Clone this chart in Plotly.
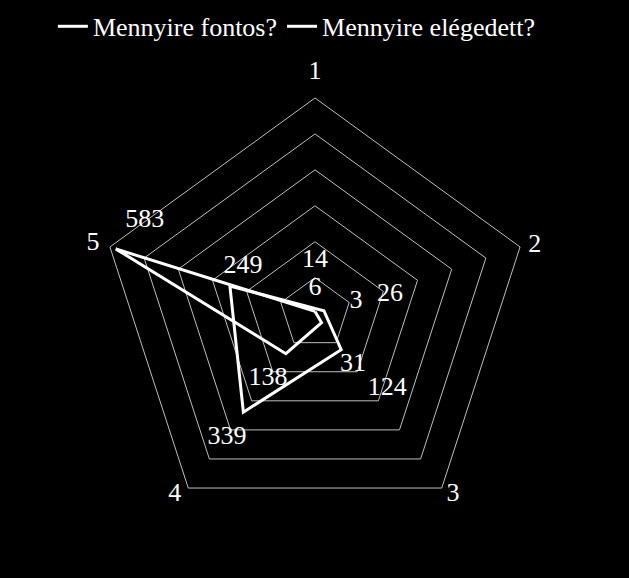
import plotly.graph_objects as go

# axis categories (clockwise from the top)
categories = ['1', '2', '3', '4', '5']

# the two series as drawn
fontos = [14, 26, 124, 339, 249]
elegedett = [6, 3, 31, 138, 583]

# data label texts, one per axis for each series
labels_a = ['14', '26', '124', '339', '249']
labels_b = ['6', '3', '31', '138', '583']

# label placement (radial units on the same 0-600 scale, angle in degrees clockwise from top)
LABEL_R_A = [149, 215, 290, 422, 239]
LABEL_ANG_A = [0, 76, 136, 215.5, 303]
LABEL_R_B = [71, 119, 176, 222, 540]
LABEL_ANG_B = [0, 74, 143, 216, 298.6]
# category labels around the outside
CAT_R = [670, 641, 634, 638, 648]
CAT_ANG = [0, 72.7, 142.7, 217.7, 287.6]

FONT = 'Liberation Serif'
GRID = '#bfbfbf'
DOMAIN = dict(x=[0.158, 0.8436], y=[0.0844, 0.8305])
# same centre, radius scaled by 700/600 so text up to r=700 fits
DOMAIN_TEXT = dict(x=[0.101, 0.9006], y=[0.0223, 0.8926])


def closed(values):
    """Repeat the first point so the polygon closes."""
    return list(values) + [values[0]]


fig = go.Figure()
fig.add_trace(go.Scatterpolar(r=closed(fontos), theta=closed(categories),
                              mode='lines', name='Mennyire fontos?',
                              line=dict(color='white', width=3)))
fig.add_trace(go.Scatterpolar(r=closed(elegedett), theta=closed(categories),
                              mode='lines', name='Mennyire elégedett?',
                              line=dict(color='white', width=3)))

# text goes on a second, invisible polar with a numeric angular axis
fig.add_trace(go.Scatterpolar(r=LABEL_R_A + LABEL_R_B + CAT_R,
                              theta=LABEL_ANG_A + LABEL_ANG_B + CAT_ANG,
                              mode='text', text=labels_a + labels_b + categories,
                              textposition='middle center',
                              textfont=dict(family=FONT, size=26, color='white'),
                              cliponaxis=False, subplot='polar2',
                              showlegend=False, hoverinfo='skip'))

fig.update_layout(
    width=629, height=578,
    paper_bgcolor='black', plot_bgcolor='black',
    margin=dict(l=0, r=0, t=0, b=0),
    font=dict(family=FONT, size=26, color='white'),
    showlegend=True,
    legend=dict(orientation='h', x=0.472, xanchor='center', y=0.995, yanchor='top',
                font=dict(family=FONT, size=26, color='white'),
                bgcolor='rgba(0,0,0,0)', itemwidth=30),
    polar=dict(
        domain=DOMAIN,
        bgcolor='black',
        gridshape='linear',
        radialaxis=dict(range=[0, 600], dtick=100, showticklabels=False,
                        ticks='', showline=False, gridcolor=GRID, gridwidth=1),
        angularaxis=dict(direction='clockwise', rotation=90, showgrid=False,
                         showline=True, linecolor=GRID, linewidth=1, ticks='',
                         showticklabels=False),
    ),
    polar2=dict(
        domain=DOMAIN_TEXT,
        bgcolor='rgba(0,0,0,0)',
        radialaxis=dict(range=[0, 700], visible=False),
        angularaxis=dict(direction='clockwise', rotation=90, thetaunit='degrees',
                         visible=False),
    ),
)

fig.write_html("out.html", config={'displayModeBar': False},
               post_script="document.body.style.margin='0';"
                           "document.body.style.background='black';")
